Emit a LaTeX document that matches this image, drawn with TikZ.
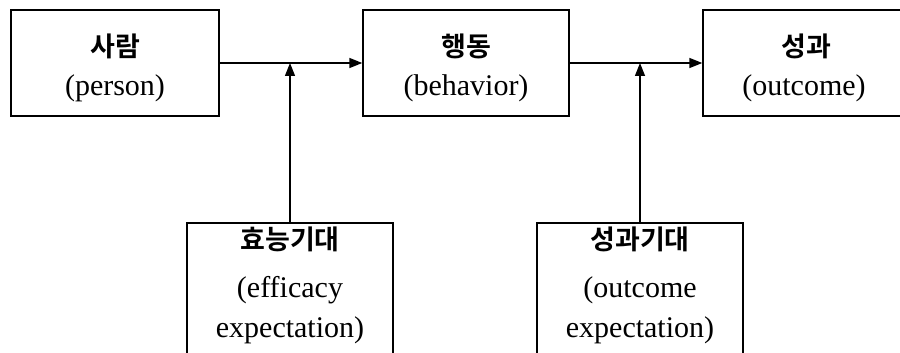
\documentclass[tikz,border=0pt]{standalone}
\usepackage{fontspec}
\setmainfont{Liberation Serif}
\newfontfamily\kor{Noto Sans CJK KR}[BoldFont={Noto Sans CJK KR Bold}]
\usetikzlibrary{arrows.meta}
\begin{document}
\begin{tikzpicture}[x=1pt,y=-1pt,
  box/.style={draw,line width=1.4pt,rectangle,minimum height=106pt,inner sep=0pt},
  kt/.style={font=\kor\bfseries\fontsize{27}{30}\selectfont,inner sep=0pt},
  et/.style={font=\fontsize{30}{40}\selectfont,inner sep=0pt,align=center},
  arr/.style={line width=1.4pt,-{Triangle[length=13pt,width=10pt]}}]
\useasboundingbox (0,0) rectangle (900,353);
\clip (0,0) rectangle (900,353);
% upper row
\node[box,minimum width=208pt] (b1) at (115,63) {};
\node[box,minimum width=206pt] (b2) at (466,63) {};
\node[box,minimum width=206pt] (b3) at (806,63) {};
\node[kt] (k1) at (115,46) {사람};
\node[et] (e1) at (115,88) {(person)};
\node[kt] (k2) at (466,46) {행동};
\node[et] (e2) at (466,88) {(behavior)};
\node[kt] (k3) at (806,46) {성과};
\node[et] (e3) at (804,88) {(outcome)};
% lower row (runs past the bottom edge)
\node[box,minimum width=206pt,minimum height=160pt] (b4) at (290,303) {};
\node[box,minimum width=206pt,minimum height=160pt] (b5) at (640,303) {};
\node[kt] (k4) at (290,239) {효능기대};
\node[et] (e4) at (290,310) {(efficacy\\expectation)};
\node[kt] (k5) at (640,239) {성과기대};
\node[et] (e5) at (640,310) {(outcome\\expectation)};
% connectors
\draw[arr] (b1.east) -- (b2.west);
\draw[arr] (b2.east) -- (b3.west);
\coordinate (j1) at (b4.north |- b1.east);
\coordinate (j2) at (b5.north |- b2.east);
\draw[arr] (b4.north) -- (j1);
\draw[arr] (b5.north) -- (j2);
\end{tikzpicture}
\end{document}
